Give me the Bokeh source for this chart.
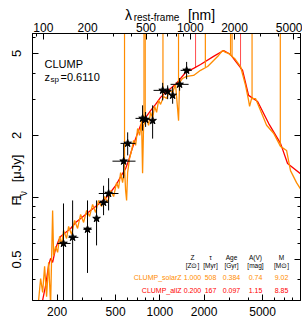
import math
from bokeh.plotting import figure
from bokeh.models import LogAxis, Range1d, LogScale, FixedTicker, Label
from bokeh.embed import file_html
from bokeh.resources import INLINE

Z_SPEC = 0.6110
X_MIN, X_MAX = 136.0, 9057.0          # observed wavelength range [nm]
Y_MIN, Y_MAX = 0.316, 6.25            # flux range [uJy]

# ---------------- photometry (observed nm, uJy) ----------------
phot_wl      = [221, 255, 322, 371, 414, 448, 567, 604, 763, 800, 893, 1045, 1130, 1222, 1363, 1521]
phot_flux    = [0.598, 0.64, 0.70, 0.79, 0.946, 1.045, 1.50, 1.83, 2.42, 2.39, 2.36, 3.31, 3.27, 3.13, 3.54, 4.14]
phot_wl_lo   = [201, 239, 302, 360, 385, 384, 476, 540, 683, 760, 860, 906, 1090, 1180, 1183, 1384]
phot_wl_hi   = [247, 279, 344, 382, 445, 523, 683, 683, 837, 840, 925, 1142, 1170, 1265, 1569, 1650]
phot_flux_lo = [0.30, 0.30, 0.43, 0.585, 0.82, 0.865, 1.24, 1.60, 2.11, 2.20, 1.93, 2.96, 3.00, 2.85, 3.30, 3.75]
phot_flux_hi = [0.935, 0.967, 0.967, 0.967, 1.14, 1.24, 1.83, 2.07, 2.80, 2.60, 2.80, 3.60, 3.50, 3.45, 3.80, 4.55]

# ---------------- model CLUMP_solarZ (orange) ----------------
solar_wl = [149.6, 154.5, 159.4, 164.4, 169.6, 175.1, 180.6, 186.4, 189.3, 195.4, 201.6, 208, 214.6,
            221.3, 232, 239.4, 251, 263, 275.7, 289, 303, 317.6, 332.7, 348.7, 365.5, 383, 401.5,
            420.7, 441, 462.3, 484.6, 507.8, 523.6, 540.8, 558, 575.4, 584.8, 594.1, 603.5, 622.6,
            642.3, 662.8, 683.9, 705.9, 728.3, 751, 763, 775, 812.5, 838, 865, 892.7, 921, 950.5,
            980.6, 1011.6, 1061, 1112, 1165, 1221, 1279, 1341, 1362, 1427, 1521, 1697, 1892, 2113,
            2321, 2509, 2673, 2799, 2936, 3225, 3540, 3828, 4016, 4080, 4207, 4477, 4842, 5323,
            5940, 6622, 7281, 7745, 8511, 9354]
solar_flux = [0.316, 0.404, 0.346, 0.463, 0.330, 0.484, 0.30, 0.865, 0.523, 0.578, 0.541, 0.647, 0.591,
              0.692, 0.632, 0.723, 0.661, 0.773, 0.707, 0.827, 0.756, 0.865, 0.809, 0.925, 0.846, 0.967, 0.904,
              1.01, 0.946, 1.08, 1.01, 1.18, 1.105, 1.32, 1.18, 1.38, 1.08, 0.967, 1.32, 1.55,
              1.69, 1.89, 1.79, 2.16, 2.00, 2.36, 1.31, 2.24, 2.42, 2.24, 2.59, 2.42, 2.77, 2.59,
              2.96, 2.83, 3.09, 3.02, 3.31, 3.23, 3.54, 2.36, 3.61, 3.78, 3.87, 3.91, 4.14, 4.32,
              4.62, 4.89, 5.17, 5.06, 5.00, 4.73, 4.32, 3.50, 2.96, 2.77, 3.02, 3.02, 2.64, 2.24,
              2.05, 1.77, 1.69, 1.35, 1.18, 1.06]
solar_line_wl   = [575, 780, 795, 1050, 1340, 2040, 3027, 3100, 4240, 6600]
solar_line_base = [1.38, 2.30, 2.40, 3.10, 3.50, 4.30, 4.90, 4.85, 3.00, 1.78]
solar_line_peak = [20.0, 20.0, 20.0, 20.0, 20.0, 20.0, 20.0, 20.0, 20.0, 20.0]

# ---------------- model CLUMP_allZ (red) ----------------
allz_wl = [156.9, 167.1, 175.1, 180.6, 186.4, 195.4, 204.8, 211.3, 228.5, 247.1, 267.3, 289, 312.6,
           338, 365.5, 395.3, 427.5, 462.3, 500, 540.8, 584.8, 613, 642.3, 683.9, 739.6, 799.8,
           865, 935.4, 1011.6, 1094, 1183, 1279, 1384, 1496, 1697, 1892, 2321, 2715, 3027, 3655,
           4016, 4624, 5494, 6622, 7396, 9354]
allz_flux = [0.30, 0.374, 0.468, 0.506, 0.484, 0.566, 0.618, 0.647, 0.676, 0.707, 0.756, 0.791, 0.827,
             0.865, 0.904, 0.946, 0.989, 1.06, 1.14, 1.26, 1.38, 1.51, 1.69, 1.93, 2.24, 2.44,
             2.64, 2.83, 3.06, 3.23, 3.38, 3.54, 3.78, 4.04, 4.23, 4.42, 4.84, 5.17, 4.94, 4.14,
             3.13, 2.92, 2.29, 1.83, 1.46, 1.28]
allz_line_wl   = [1750, 3540]
allz_line_base = [4.30, 4.20]
allz_line_peak = [20.0, 20.0]

# ---------------- ticks ----------------
obs_ticks = [200, 500, 1000, 2000, 5000]
obs_minor = [300, 400, 600, 700, 800, 900, 3000, 4000, 6000, 7000, 8000, 9000]
rest_ticks = [100, 200, 500, 1000, 2000, 5000]
rest_minor = [90, 300, 400, 600, 700, 800, 900, 3000, 4000]
flux_ticks = [0.5, 1, 2, 5]
flux_minor = [0.4, 0.6, 0.7, 0.8, 0.9, 3, 4, 6]

# ---------------- texts ----------------
xtitle_main = ["\u03bb", "[nm]"]
xtitle_sub = "rest-frame"
ytitle_main = ["F", "[\u03bcJy]"]
ytitle_sub = "\u03bd"
tab_head1 = ["Z", "\u03c4", "Age", "A(V)", "M"]
tab_head2 = ["[Z\u2299]", "[Myr]", "[Gyr]", "[mag]", "[M\u2299]"]
tab_names = ["CLUMP_solarZ", "CLUMP_allZ"]
tab_rows = [["1.000", "508", "0.384", "0.74", "9.02"],
            ["0.200", "167", "0.097", "1.15", "8.85"]]

ORANGE = "#FF8C00"
RED = "#FF0000"
FONT = "Liberation Sans"

# layout (page pixels)
W, H = 302, 320
FL, FR, FT, FB = 32, 300, 33, 300
LX0, LX1 = math.log10(X_MIN), math.log10(X_MAX)
LY0, LY1 = math.log10(Y_MIN), math.log10(Y_MAX)

def px_to_x(ix):
    return float("%.5g" % (10 ** (LX0 + (ix - FL) / (FR - FL) * (LX1 - LX0))))

def py_to_y(iy):
    return float("%.5g" % (10 ** (LY1 - (iy - FT) / (FB - FT) * (LY1 - LY0))))

p = figure(width=W, height=H, x_axis_type="log", y_axis_type="log",
           x_range=Range1d(X_MIN, X_MAX), y_range=Range1d(Y_MIN, Y_MAX),
           output_backend="svg", toolbar_location=None,
           min_border_left=FL, min_border_right=W - FR, min_border_top=FT, min_border_bottom=H - FB)
p.xgrid.visible = False
p.ygrid.visible = False
p.outline_line_color = "black"
p.outline_line_width = 1
p.background_fill_color = "white"
p.border_fill_color = "white"

def style_axis(ax, size="12px", standoff=4):
    ax.axis_line_color = "black"
    ax.major_tick_line_color = "black"
    ax.minor_tick_line_color = "black"
    ax.major_tick_in = 6
    ax.major_tick_out = 0
    ax.minor_tick_in = 3
    ax.minor_tick_out = 0
    ax.major_label_text_font = FONT
    ax.major_label_text_font_size = size
    ax.major_label_text_color = "black"
    ax.major_label_standoff = standoff

def text_axis(cls_kwargs, ticks, labels, size, standoff, orientation="horizontal"):
    ax = LogAxis(ticker=FixedTicker(ticks=ticks, minor_ticks=[]),
                 major_label_overrides=dict(zip(ticks, labels)), **cls_kwargs)
    ax.axis_line_color = None
    ax.major_tick_line_color = None
    ax.minor_tick_line_color = None
    ax.major_tick_in = 0
    ax.major_tick_out = 0
    ax.major_label_text_font = FONT
    ax.major_label_text_font_size = size
    ax.major_label_text_color = "black"
    ax.major_label_standoff = standoff
    ax.major_label_orientation = orientation
    return ax

# bottom axis (observed)
xa = p.xaxis[0]
xa.ticker = FixedTicker(ticks=obs_ticks, minor_ticks=obs_minor)
style_axis(xa, "12px", 6)

# left: tick-only axis nearest to frame
ya = p.yaxis[0]
ya.ticker = FixedTicker(ticks=flux_ticks, minor_ticks=flux_minor)
style_axis(ya, "0px", 0)
ya.major_label_text_color = None

# left: subscript nu, then numbers + title
yl_sub_pos = [py_to_y(193)]
p.add_layout(text_axis({}, yl_sub_pos, [ytitle_sub], "10px", 3, "vertical"), "left")
yl_pos = flux_ticks + [py_to_y(201), py_to_y(168)]
yl_txt = ["0.5", "1", "2", "5"] + ytitle_main
p.add_layout(text_axis({}, yl_pos, yl_txt, "13px", -9, "vertical"), "left")

# top: rest-frame axis, then title pieces
p.extra_x_ranges = {"rest": Range1d(X_MIN / (1 + Z_SPEC), X_MAX / (1 + Z_SPEC))}
p.extra_x_scales = {"rest": LogScale()}
top = LogAxis(x_range_name="rest", ticker=FixedTicker(ticks=rest_ticks, minor_ticks=rest_minor))
style_axis(top, "12px", 2)
p.add_layout(top, "above")
p.add_layout(text_axis({}, [px_to_x(128), px_to_x(201)], xtitle_main, "14px", -3), "above")
p.add_layout(text_axis({}, [px_to_x(156)], [xtitle_sub], "10px", -19), "above")

# right: ticks only
right = LogAxis(ticker=FixedTicker(ticks=flux_ticks, minor_ticks=flux_minor))
style_axis(right, "0px", 0)
right.major_label_text_color = None
p.add_layout(right, "right")

# models
p.line(allz_wl, allz_flux, line_color=RED, line_width=1.3)
p.segment(x0=allz_line_wl, y0=allz_line_base, x1=allz_line_wl, y1=allz_line_peak,
          line_color=RED, line_width=1, line_alpha=0.7)
p.line(solar_wl, solar_flux, line_color=ORANGE, line_width=1.3)
p.segment(x0=solar_line_wl, y0=solar_line_base, x1=solar_line_wl, y1=solar_line_peak,
          line_color=ORANGE, line_width=1.2)

# photometry
p.segment(x0=phot_wl_lo, y0=phot_flux, x1=phot_wl_hi, y1=phot_flux, line_color="black", line_width=1)
p.segment(x0=phot_wl, y0=phot_flux_lo, x1=phot_wl, y1=phot_flux_hi, line_color="black", line_width=1)
p.scatter(phot_wl, phot_flux, marker="star", size=8, fill_color="black", line_color="black")

# ---------------- in-frame annotations: page pixel -> frame screen units ----------------
def lab(text, ix, iy, size, color="black", align="left", baseline="alphabetic"):
    p.add_layout(Label(x=ix - FL, y=FB - iy, x_units="screen", y_units="screen", text=text,
                       text_font=FONT, text_font_size=size, text_color=color,
                       text_align=align, text_baseline=baseline))

lab("CLUMP", 44, 63, "11px")
lab("z", 44, 76, "11px")
lab("sp", 50, 79, "8px")
lab("=0.6110", 60, 76, "11px")

col_x = [192, 210, 231, 255, 281]
for cx, h1, h2 in zip(col_x, tab_head1, tab_head2):
    lab(h1, cx, 257, "6.5px", align="center")
    lab(h2, cx, 265, "6.5px", align="center")
row_y = [277, 290]
row_c = [ORANGE, RED]
for ry, rc, name, vals in zip(row_y, row_c, tab_names, tab_rows):
    lab(name, 181, ry, "7px", color=rc, align="right")
    for cx, v in zip(col_x, vals):
        lab(v, cx, ry, "7px", color=rc, align="center")

open("out.html", "w").write(file_html(p, INLINE))
